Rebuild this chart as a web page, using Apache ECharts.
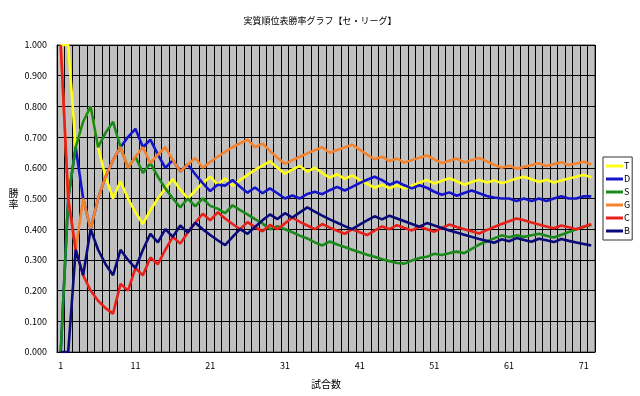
<!DOCTYPE html>
<html>
<head>
<meta charset="utf-8">
<script src="https://cdn.jsdelivr.net/npm/echarts@6/dist/echarts.min.js"></script>
<style>
html,body{margin:0;padding:0;background:#fff;}
#c{width:640px;height:396px;}
</style>
</head>
<body>
<div id="c"></div>
<script>
const games = [1,2,3,4,5,6,7,8,9,10,11,12,13,14,15,16,17,18,19,20,21,22,23,24,25,26,27,28,29,30,31,32,33,34,35,36,37,38,39,40,41,42,43,44,45,46,47,48,49,50,51,52,53,54,55,56,57,58,59,60,61,62,63,64,65,66,67,68,69,70,71,72];
const teamNames = ['T','D','S','G','C','B'];
const T = [1.000,1.000,0.667,0.750,0.800,0.667,0.571,0.500,0.556,0.500,0.455,0.417,0.462,0.500,0.533,0.563,0.529,0.500,0.526,0.550,0.571,0.545,0.565,0.542,0.560,0.577,0.593,0.607,0.621,0.600,0.581,0.594,0.606,0.588,0.600,0.583,0.568,0.579,0.564,0.575,0.561,0.548,0.535,0.545,0.533,0.543,0.532,0.542,0.551,0.560,0.549,0.558,0.566,0.556,0.545,0.554,0.561,0.552,0.559,0.550,0.557,0.565,0.571,0.563,0.554,0.561,0.552,0.559,0.565,0.571,0.577,0.569];
const D = [0.000,0.500,0.667,0.500,0.400,0.500,0.571,0.625,0.667,0.700,0.727,0.667,0.692,0.643,0.600,0.625,0.588,0.611,0.579,0.550,0.524,0.545,0.542,0.560,0.538,0.519,0.536,0.517,0.533,0.517,0.500,0.510,0.500,0.515,0.522,0.514,0.527,0.538,0.526,0.538,0.550,0.561,0.571,0.560,0.545,0.555,0.543,0.533,0.543,0.535,0.522,0.512,0.520,0.509,0.518,0.526,0.517,0.508,0.503,0.500,0.500,0.492,0.500,0.492,0.500,0.492,0.500,0.507,0.500,0.500,0.507,0.507];
const S = [0.000,0.500,0.667,0.750,0.800,0.667,0.714,0.750,0.667,0.600,0.636,0.583,0.615,0.571,0.533,0.500,0.471,0.500,0.474,0.500,0.476,0.467,0.452,0.478,0.462,0.448,0.433,0.419,0.400,0.410,0.400,0.390,0.379,0.370,0.357,0.347,0.360,0.350,0.342,0.333,0.325,0.317,0.310,0.302,0.296,0.290,0.288,0.298,0.306,0.310,0.320,0.316,0.322,0.327,0.322,0.336,0.350,0.360,0.370,0.380,0.374,0.380,0.375,0.380,0.385,0.379,0.373,0.382,0.391,0.400,0.408,0.414];
const G = [1.000,0.500,0.333,0.500,0.400,0.500,0.571,0.625,0.667,0.600,0.636,0.667,0.615,0.643,0.667,0.625,0.588,0.611,0.632,0.600,0.619,0.636,0.652,0.667,0.680,0.692,0.667,0.679,0.655,0.633,0.613,0.625,0.636,0.647,0.657,0.667,0.649,0.658,0.667,0.675,0.659,0.643,0.628,0.636,0.622,0.630,0.617,0.625,0.633,0.640,0.627,0.615,0.623,0.630,0.618,0.625,0.632,0.621,0.610,0.600,0.607,0.597,0.603,0.609,0.615,0.606,0.612,0.618,0.609,0.614,0.620,0.611];
const C = [1.000,0.500,0.333,0.250,0.200,0.167,0.143,0.125,0.222,0.200,0.273,0.250,0.308,0.286,0.333,0.375,0.353,0.389,0.421,0.450,0.429,0.455,0.435,0.417,0.400,0.423,0.407,0.393,0.414,0.400,0.419,0.438,0.424,0.412,0.400,0.417,0.405,0.395,0.385,0.400,0.390,0.381,0.395,0.409,0.400,0.413,0.404,0.396,0.408,0.400,0.392,0.404,0.415,0.407,0.400,0.393,0.386,0.397,0.407,0.417,0.426,0.435,0.429,0.422,0.415,0.409,0.403,0.412,0.406,0.400,0.408,0.417];
const B = [0.000,0.000,0.333,0.250,0.400,0.333,0.286,0.250,0.333,0.300,0.273,0.333,0.385,0.357,0.400,0.375,0.412,0.389,0.421,0.400,0.381,0.364,0.348,0.375,0.400,0.385,0.407,0.429,0.448,0.433,0.452,0.438,0.455,0.471,0.457,0.444,0.432,0.421,0.410,0.400,0.415,0.429,0.442,0.432,0.444,0.435,0.426,0.417,0.408,0.420,0.412,0.404,0.396,0.389,0.382,0.375,0.368,0.362,0.356,0.367,0.361,0.371,0.365,0.359,0.369,0.364,0.358,0.368,0.362,0.357,0.352,0.347];
const colors = ['#FFFF1A','#1414C8','#1A8A1A','#F5822D','#E8201A','#0A0A78'];
const seriesData = [T,D,S,G,C,B];

const font = "'Noto Sans CJK JP', sans-serif";
const chart = echarts.init(document.getElementById('c'), null, {renderer:'canvas'});
chart.setOption({
  animation:false,
  backgroundColor:'#ffffff',
  textStyle:{fontFamily:font},
  title:{
    text:'実質順位表勝率グラフ【セ・リーグ】',
    left:'center', top:11,
    textStyle:{fontSize:9, fontWeight:'normal', color:'#000', fontFamily:font}
  },
  legend:{
    orient:'vertical', left:603, top:157,
    data:teamNames,
    icon:'rect', itemWidth:17, itemHeight:3, itemGap:3,
    padding:[4,2,4,3],
    backgroundColor:'#fff', borderColor:'#333', borderWidth:1,
    textStyle:{fontSize:9, color:'#000', lineHeight:10, fontFamily:font, padding:[0,0,0,-4]}
  },
  grid:{
    left:57, top:45, width:538, height:307,
    show:true, backgroundColor:'#C0C0C0', borderColor:'#404040', borderWidth:1
  },
  xAxis:{
    type:'category', data:games.map(String), boundaryGap:true,
    name:'試合数', nameLocation:'middle', nameGap:27,
    nameTextStyle:{fontSize:10, color:'#000', fontFamily:font},
    axisLine:{show:true, lineStyle:{color:'#000'}},
    axisTick:{show:false},
    axisLabel:{interval:9, fontSize:9, color:'#000', margin:9, fontFamily:font},
    splitLine:{show:true, interval:0, lineStyle:{color:'#000', width:1}}
  },
  yAxis:{
    type:'value', min:0, max:1, interval:0.1,
    name:'勝\n率', nameLocation:'middle', nameRotate:0, nameGap:31,
    nameTextStyle:{fontSize:10, color:'#000', lineHeight:11, fontFamily:font},
    axisLine:{show:true, lineStyle:{color:'#000'}},
    axisTick:{show:false},
    axisLabel:{fontSize:9, color:'#000', margin:10, fontFamily:font, formatter:v=>v.toFixed(3)},
    splitLine:{show:true, lineStyle:{color:'#000', width:1}}
  },
  series: teamNames.map((n,i)=>({
    name:n, type:'line', data:seriesData[i],
    showSymbol:false, symbol:'none',
    lineStyle:{width:2.6, color:colors[i]},
    itemStyle:{color:colors[i]}
  }))
});
</script>
</body>
</html>
